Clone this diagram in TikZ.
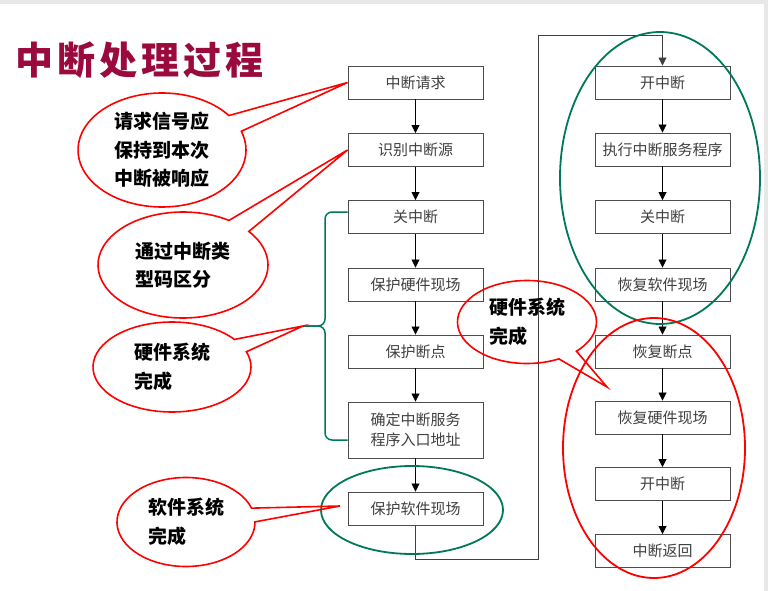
\documentclass[tikz,border=0pt]{standalone}
\usepackage{fontspec}
\newfontfamily\cjk{Noto Sans CJK SC}
\usetikzlibrary{arrows.meta,calc,shapes.callouts}
\definecolor{biaoti}{RGB}{155,10,60}
\definecolor{lv}{RGB}{0,120,90}
\definecolor{hui}{RGB}{64,64,64}
\tikzset{
  kuang/.style={draw=black!70,line width=0.9pt,minimum width=135pt,minimum height=33pt,
    inner sep=0pt,align=center,text=hui,font=\cjk\fontsize{15}{20}\selectfont},
  jian/.style={line width=0.8pt,-{Triangle[length=8pt,width=8pt]}},
  lian/.style={draw=black!75,line width=0.8pt},
  quan/.style={draw=lv,line width=1.8pt},
  qipao/.style={ellipse callout,draw=red,line width=1.6pt,inner sep=0pt,align=left,
    callout pointer arc=18,font=\cjk\bfseries\fontsize{19}{28.5}\selectfont},
}

\begin{document}
\begin{tikzpicture}[x=1pt,y=-1pt]
  \useasboundingbox (0,0) rectangle (768,591);
  \fill[black!9] (0,0) rectangle (768,591);
  \fill[white] (0,4) rectangle (764,591);

  \node[anchor=west,text=biaoti,font=\cjk\bfseries\fontsize{38}{38}\selectfont] (biao) at (12,60)
    {中\hspace{4pt}断\hspace{4pt}处\hspace{4pt}理\hspace{4pt}过\hspace{4pt}程};

  % left column
  \node[kuang] (a1) at (415.5,82.5) {中断请求};
  \node[kuang] (a2) at (415.5,150) {识别中断源};
  \node[kuang] (a3) at (415.5,217) {关中断};
  \node[kuang] (a4) at (415.5,284.5) {保护硬件现场};
  \node[kuang] (a5) at (415.5,351.5) {保护断点};
  \node[kuang,minimum height=56pt] (a6) at (415.5,430) {确定中断服务\\程序入口地址};
  \node[kuang] (a7) at (415.5,508.5) {保护软件现场};

  % right column
  \node[kuang] (b1) at (662.5,82.5) {开中断};
  \node[kuang] (b2) at (662.5,149.5) {执行中断服务程序};
  \node[kuang] (b3) at (662.5,217) {关中断};
  \node[kuang] (b4) at (662.5,284.5) {恢复软件现场};
  \node[kuang] (b5) at (662.5,351.5) {恢复断点};
  \node[kuang] (b6) at (662.5,417.5) {恢复硬件现场};
  \node[kuang] (b7) at (662.5,484) {开中断};
  \node[kuang] (b8) at (662.5,551) {中断返回};

  \foreach \i/\j in {a1/a2,a2/a3,a3/a4,a4/a5,a5/a6,a6/a7,
                     b1/b2,b2/b3,b3/b4,b4/b5,b5/b6,b6/b7,b7/b8}
    \draw[jian] (\i) -- (\j);

  \coordinate (di) at (538,559);
  \coordinate (ding) at (538,35);
  \draw[lian,jian] (a7.south) |- (di) -- (ding) -| (b1.north);

  % green marks
  \draw[quan] (660,178) ellipse[x radius=100,y radius=146];
  \draw[quan] (412,510) ellipse[x radius=91,y radius=44];
  \coordinate (kuo) at (303,326);
  \draw[quan,line width=1.5pt,rounded corners=7pt] ($(a3.west)+(0,-5)$) -- (325,212) -- (325,326) -- (kuo);
  \draw[quan,line width=1.5pt,rounded corners=7pt] (kuo) -- (325,326) -- (325,440) -- ($(a6.west)+(0,10)$);

  \draw[red,line width=1.8pt] (654,448) ellipse[x radius=91,y radius=130];

  % callouts
  \node[qipao,minimum width=168pt,minimum height=114pt,align=center,
    callout absolute pointer={(a1.west)}] (q1) at (162,150) {请求信号应\\保持到本次\\中断被响应};
  \node[qipao,minimum width=170pt,minimum height=106pt,
    callout absolute pointer={(a2.west)}] (q2) at (183,265) {通过中断类\\型码区分};
  \node[qipao,minimum width=158pt,minimum height=90pt,
    callout absolute pointer={(kuo)}] (q3) at (172,367) {硬件系统\\完成};
  \node[qipao,minimum width=138pt,minimum height=89pt,
    callout absolute pointer={(340,506)}] (q4) at (186,522) {软件系统\\完成};
  \node[qipao,minimum width=139pt,minimum height=83pt,
    callout absolute pointer={(607,387)}] (q5) at (527,322) {硬件系统\\完成};
\end{tikzpicture}
\end{document}
